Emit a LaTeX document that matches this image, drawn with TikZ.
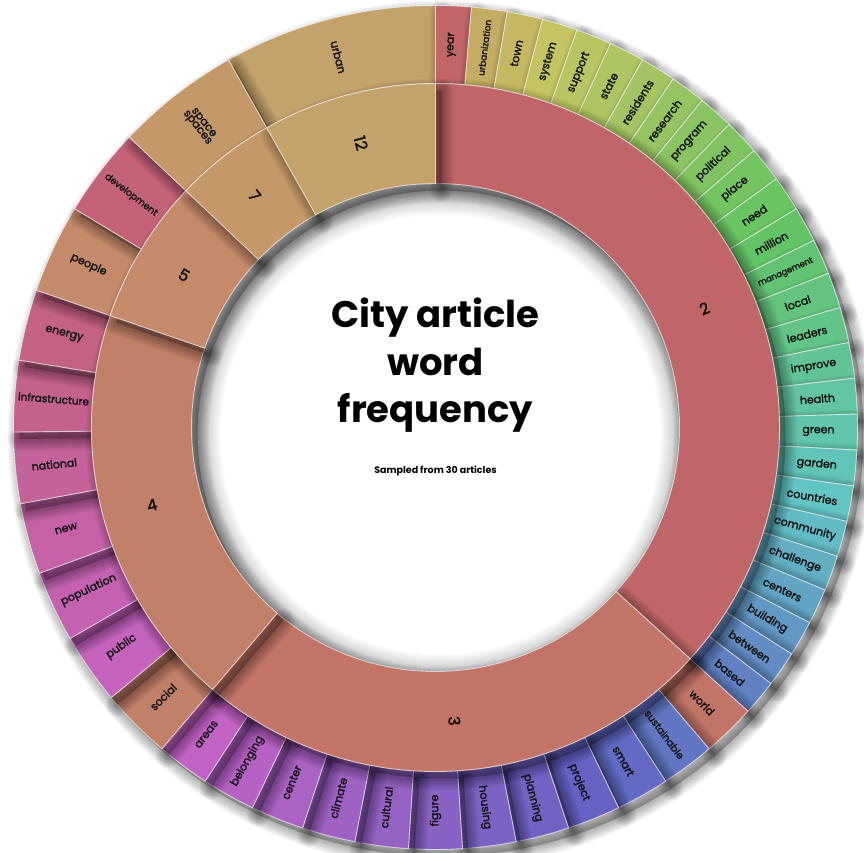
\documentclass[tikz,border=0pt]{standalone}
\usepackage{fontspec}
\setmainfont{Poppins}
\newfontfamily\labfont{Poppins}[BoldFont=Poppins, BoldFeatures={FakeBold=2}]
\definecolor{gA}{HTML}{C06668}
\definecolor{gB}{HTML}{C27468}
\definecolor{gC}{HTML}{C28068}
\definecolor{gD}{HTML}{C48A6A}
\definecolor{gE}{HTML}{C49868}
\definecolor{gF}{HTML}{C4A26C}
\definecolor{txt}{HTML}{141414}
\def\UA{2.448979592}
\def\RI{244}\def\RM{344}\def\RO{422}
\def\RL{383}\def\RN{294}
\tikzset{
  shadowfill/.style={fill=black, fill opacity=.24, shift={(6pt,-7pt)}},
  shadowlayer/.style={draw=black, draw opacity=.026, line join=round, shift={(6pt,-7pt)}},
  discshadow/.style={draw=black, draw opacity=.022, shift={(5pt,-7pt)}},
  segstyle/.style={draw=white, draw opacity=.6, line width=0.9pt, line join=miter},
  lab/.style={text=txt, inner sep=0pt},
  ttl/.style={text=black, font=\fontsize{37}{40}\selectfont\bfseries, inner sep=0pt, anchor=base}
}
\newcommand\huecol[1]{\pgfmathtruncatemacro\hh{#1}\convertcolorspec{Hsb}{\hh,0.5,0.77}{rgb}\tmpc\definecolor{cc}{rgb}{\tmpc}}
\newcommand\segshape[4]{({90-(#1)}:#3pt) arc[start angle={90-(#1)}, end angle={90-(#2)}, radius=#3pt] -- ({90-(#2)}:#4pt) arc[start angle={90-(#2)}, end angle={90-(#1)}, radius=#4pt] -- cycle}
\newcommand\drawseg[5]{%
  \path[shadowfill] \segshape{#1}{#2}{#3}{#4};%
  \foreach \sw in {2,4,...,24}{\path[shadowlayer, line width=\sw pt] \segshape{#1}{#2}{#3}{#4};}%
  \path[segstyle, fill=#5] \segshape{#1}{#2}{#3}{#4};%
}
\newcommand\lbl[5]{%
  \pgfmathsetmacro\th{90-(#2)}%
  \pgfmathsetmacro\rot{(#2)<179.5 ? 90-(#2) : 270-(#2)}%
  \node[lab, font=\labfont\bfseries\fontsize{#4}{#4}\selectfont, rotate=\rot, align=center] (#1) at (\th:#3pt) {#5};%
}
\begin{document}
\begin{tikzpicture}
\fill[white] (-435.5pt,-424.5pt) rectangle (428.5pt,427.5pt);
\useasboundingbox (-435.5pt,-424.5pt) rectangle (428.5pt,427.5pt);
% outer ring: group 12
\drawseg{135*\UA}{147*\UA}{\RM}{\RO}{gF}
% group 2
\foreach \i in {0,...,26}{%
  \pgfmathsetmacro\aa{\i*2*\UA}\pgfmathsetmacro\ab{(\i+1)*2*\UA}%
  \ifnum\i=0 \colorlet{cc}{gA}\else\huecol{46+7*(\i-1)}\fi
  \drawseg{\aa}{\ab}{\RM}{\RO}{cc}
}
% group 3
\foreach \i in {0,...,11}{%
  \pgfmathsetmacro\aa{(54+\i*3)*\UA}\pgfmathsetmacro\ab{(54+(\i+1)*3)*\UA}%
  \ifnum\i=0 \colorlet{cc}{gB}\else\huecol{46+7*(25+\i)}\fi
  \drawseg{\aa}{\ab}{\RM}{\RO}{cc}
}
% group 4
\foreach \i in {0,...,6}{%
  \pgfmathsetmacro\aa{(90+\i*4)*\UA}\pgfmathsetmacro\ab{(90+(\i+1)*4)*\UA}%
  \ifnum\i=0 \colorlet{cc}{gC}\else\huecol{46+7*(36+\i)}\fi
  \drawseg{\aa}{\ab}{\RM}{\RO}{cc}
}
% group 5
\drawseg{118*\UA}{123*\UA}{\RM}{\RO}{gD}
\huecol{347}
\drawseg{123*\UA}{128*\UA}{\RM}{\RO}{cc}
% group 7
\drawseg{128*\UA}{135*\UA}{\RM}{\RO}{gE}
% soft shadow inside the central disc
\foreach \sw in {4,8,...,48}{\draw[discshadow, line width=\sw pt] (0pt,0pt) circle[radius=\RI pt];}
% inner ring
\drawseg{0}{54*\UA}{\RI}{\RM}{gA}
\drawseg{54*\UA}{90*\UA}{\RI}{\RM}{gB}
\drawseg{90*\UA}{118*\UA}{\RI}{\RM}{gC}
\drawseg{118*\UA}{128*\UA}{\RI}{\RM}{gD}
\drawseg{128*\UA}{135*\UA}{\RI}{\RM}{gE}
\drawseg{135*\UA}{147*\UA}{\RI}{\RM}{gF}
% inner labels
\lbl{n2}{27*\UA}{\RN}{16}{2}
\lbl{n3}{72*\UA}{\RN}{16}{3}
\lbl{n4}{104*\UA}{\RN}{16}{4}
\lbl{n5}{123*\UA}{\RN}{16}{5}
\lbl{n7}{131.5*\UA}{\RN}{16}{7}
\lbl{n12}{141*\UA}{\RN}{16}{12}
% outer labels
\foreach \w/\s [count=\i from 0] in {year/11,urbanization/9,town/11,system/11,support/11,state/11,residents/11,research/11,program/11,political/11,place/11,need/11,million/11,management/8.5,local/11,leaders/11,improve/11,health/11,green/11,garden/11,countries/11,community/11,challenge/11,centers/11,building/11,between/11,based/11}{%
  \lbl{a\i}{(2*\i+1)*\UA}{\RL}{\s}{\w}}
\foreach \w/\s [count=\i from 0] in {world/11,sustainable/10,smart/11,project/11,planning/11,housing/11,figure/11,cultural/11,climate/11,center/11,belonging/11,areas/11}{%
  \lbl{b\i}{(54+3*\i+1.5)*\UA}{\RL}{\s}{\w}}
\foreach \w/\s [count=\i from 0] in {social/11,public/11,population/11,new/11,national/11,infrastructure/10.5,energy/11}{%
  \lbl{c\i}{(90+4*\i+2)*\UA}{\RL}{\s}{\w}}
\lbl{d0}{120.5*\UA}{\RL}{11}{people}
\lbl{d1}{125.5*\UA}{\RL}{9.5}{development}
\lbl{e0}{131.5*\UA}{\RL}{11}{space\\[-3pt]spaces}
\lbl{f0}{141*\UA}{\RL}{11}{urban}
% title
\node[ttl] (t1) at (0pt,100.5pt) {City article};
\node[ttl] (t2) at (0pt,52.5pt) {word};
\node[ttl] (t3) at (0pt,5.5pt) {frequency};
\node[text=black, font=\fontsize{9.5}{10}\selectfont\bfseries, inner sep=0pt, anchor=base] (sub) at (0pt,-45.5pt) {Sampled from 30 articles};
\end{tikzpicture}
\end{document}
